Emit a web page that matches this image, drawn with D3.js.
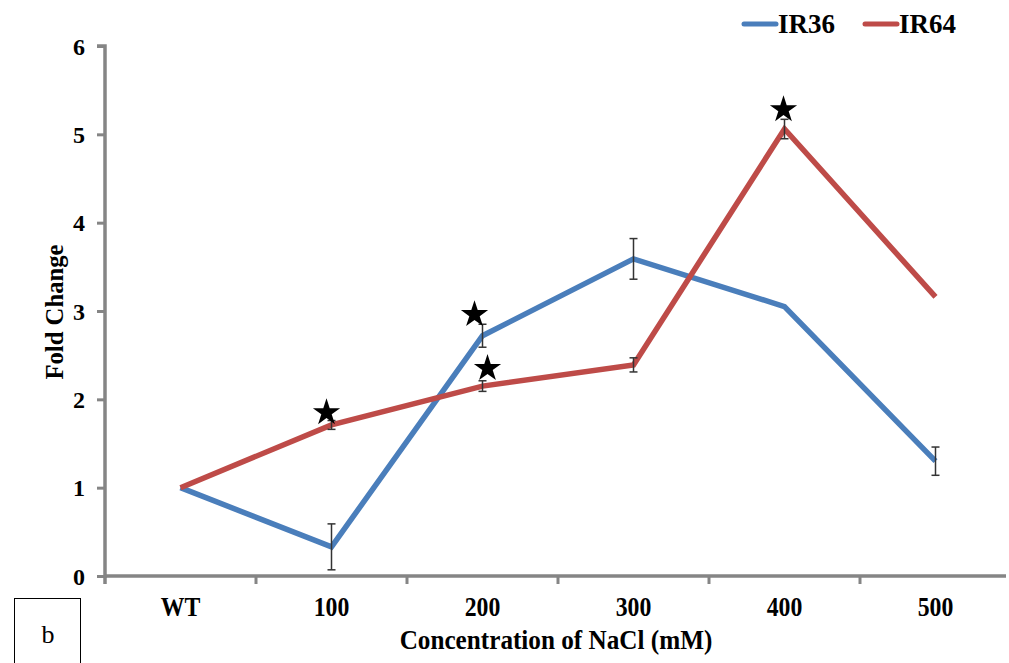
<!DOCTYPE html>
<html>
<head>
<meta charset="utf-8">
<script src="https://cdn.jsdelivr.net/npm/d3@7"></script>
<style>
  body { margin: 0; background: #fff; }
  text { font-family: "Liberation Serif", "Times New Roman", serif; }
</style>
</head>
<body>
<svg id="chart"></svg>
<script>
var categories = ["WT", "100", "200", "300", "400", "500"];
var ir36 = [1.0, 0.33, 2.72, 3.59, 3.05, 1.30];
var ir36Err = [0, 0.26, 0.13, 0.23, 0, 0.16];
var ir64 = [1.0, 1.71, 2.15, 2.39, 5.06, 3.16];
var ir64Err = [0, 0.05, 0.06, 0.08, 0.11, 0];
// significance stars
var stars = [
  {cat: "100", v: 1.85, dx: -5},
  {cat: "200", v: 2.96, dx: -8},
  {cat: "200", v: 2.35, dx: 5},
  {cat: "400", v: 5.28, dx: -1}
];
var yTicks = [0, 1, 2, 3, 4, 5, 6];

var width = 1009, height = 663;
var svg = d3.select("#chart").attr("width", width).attr("height", height);

var x = d3.scaleBand().domain(categories).range([105, 1011]);
var y = d3.scaleLinear().domain([0, 6]).range([576, 46]);
var axisColor = "#858585";

// y axis
var yAxis = svg.append("g").attr("transform", "translate(105,0)")
  .call(d3.axisLeft(y).tickValues(yTicks).tickFormat(d3.format("d")).tickSize(8).tickPadding(12));
yAxis.select(".domain").attr("stroke", axisColor).attr("stroke-width", 3.5)
  .attr("d", "M-8," + y(6) + "H0V" + (y(0) + 2));
yAxis.selectAll(".tick line").attr("stroke", axisColor).attr("stroke-width", 3);
yAxis.selectAll(".tick text").attr("fill", "#000").attr("font-size", null).attr("font-family", null)
  .style("font-size", "24px").style("font-weight", "bold").attr("dy", "0.34em");

// x axis with ticks on band boundaries
var xg = svg.append("g").attr("transform", "translate(0," + y(0) + ")");
xg.append("line").attr("x1", 105).attr("x2", 1006).attr("y1", 0).attr("y2", 0)
  .attr("stroke", axisColor).attr("stroke-width", 3.5);
xg.selectAll(".xt").data(categories.slice(1)).enter().append("line")
  .attr("x1", function(d) { return x(d); }).attr("x2", function(d) { return x(d); })
  .attr("y1", 0).attr("y2", 8).attr("stroke", axisColor).attr("stroke-width", 3);
xg.append("line").attr("x1", 105).attr("x2", 105).attr("y1", 0).attr("y2", 8)
  .attr("stroke", axisColor).attr("stroke-width", 3.5);
xg.selectAll(".xl").data(categories).enter().append("text")
  .attr("transform", function(d) {
    return "translate(" + (x(d) + x.bandwidth() / 2) + ",40) scale(0.88,1)";
  })
  .attr("text-anchor", "middle")
  .style("font-size", "27px").style("font-weight", "bold")
  .text(function(d) { return d; });

// titles
svg.append("text").attr("transform", "translate(556,649) scale(0.9,1)").attr("text-anchor", "middle")
  .style("font-size", "28px").style("font-weight", "bold")
  .text("Concentration of NaCl (mM)");
svg.append("text").attr("transform", "translate(63,312) rotate(-90) scale(0.95,1)")
  .attr("text-anchor", "middle").style("font-size", "26px").style("font-weight", "bold")
  .text("Fold Change");

var cx = function(d, i) { return x(categories[i]) + x.bandwidth() / 2; };
var series = [
  {name: "IR36", vals: ir36, err: ir36Err, color: "#4a7ebb"},
  {name: "IR64", vals: ir64, err: ir64Err, color: "#be4b48"}
];

series.forEach(function(s) {
  var line = d3.line().x(cx).y(function(d) { return y(d); });
  svg.append("path").datum(s.vals).attr("d", line).attr("fill", "none")
    .attr("stroke", s.color).attr("stroke-width", 5.5).attr("stroke-linejoin", "miter");
});

// error bars
series.forEach(function(s) {
  s.vals.forEach(function(v, i) {
    var e = s.err[i];
    if (!e) return;
    var px = cx(v, i);
    var g = svg.append("g").attr("stroke", "#333").attr("stroke-width", 1.5);
    g.append("line").attr("x1", px).attr("x2", px).attr("y1", y(v + e)).attr("y2", y(v - e));
    g.append("line").attr("x1", px - 4).attr("x2", px + 4).attr("y1", y(v + e)).attr("y2", y(v + e));
    g.append("line").attr("x1", px - 4).attr("x2", px + 4).attr("y1", y(v - e)).attr("y2", y(v - e));
  });
});

// stars
var star = d3.symbol().type(d3.symbolStar).size(230);
svg.selectAll(".star").data(stars).enter().append("path")
  .attr("d", star)
  .attr("transform", function(d) {
    return "translate(" + (x(d.cat) + x.bandwidth() / 2 + d.dx) + "," + y(d.v) + ")";
  })
  .attr("fill", "#000");

// legend
var legend = [{name: "IR36", color: "#4a7ebb", x: 744}, {name: "IR64", color: "#be4b48", x: 865}];
legend.forEach(function(l) {
  svg.append("line").attr("x1", l.x).attr("x2", l.x + 32).attr("y1", 24).attr("y2", 24)
    .attr("stroke", l.color).attr("stroke-width", 5).attr("stroke-linecap", "round");
  svg.append("text").attr("x", l.x + 34).attr("y", 33).style("font-size", "27px")
    .style("font-weight", "bold").text(l.name);
});

// panel label box
svg.append("rect").attr("x", 14.5).attr("y", 598.5).attr("width", 66).attr("height", 70)
  .attr("fill", "none").attr("stroke", "#000").attr("stroke-width", 1);
svg.append("text").attr("x", 48).attr("y", 643).attr("text-anchor", "middle")
  .style("font-size", "26px").text("b");
</script>
</body>
</html>
